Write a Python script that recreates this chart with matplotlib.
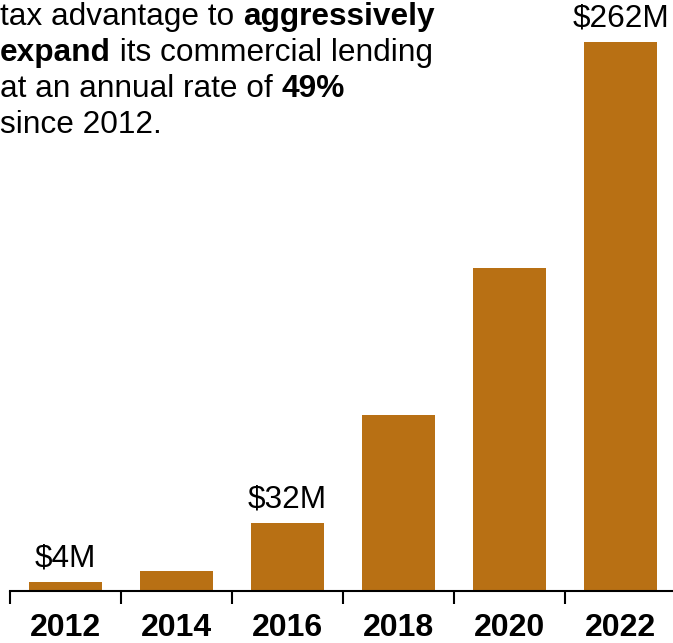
import matplotlib
matplotlib.use("Agg")
import matplotlib.pyplot as plt

years = ["2012", "2014", "2016", "2018", "2020", "2022"]
values = [4.5, 9.7, 32.5, 84, 154, 262]
label_text = ["$4M", "", "$32M", "", "", "$262M"]

bar_color = "#B87014"
font = "Liberation Sans"

W, H = 673, 643
fig = plt.figure(figsize=(W / 100, H / 100), dpi=100)
ax_left = 10 / W
ax_bottom = (H - 591) / H
ax = fig.add_axes([ax_left, ax_bottom, 666 / W, 1 - ax_bottom])

x = list(range(len(years)))
ax.bar(x, values, width=0.65, color=bar_color, zorder=2)
ax.set_xlim(-0.5, 5.5)
ax.set_ylim(0, 262 * (591 / 549))

for xi, v, t in zip(x, values, label_text):
    if t:
        ax.annotate(t, (xi, v), xytext=(0, 6), textcoords="offset points",
                    ha="center", va="bottom", fontsize=22.7, family=font,
                    color="black")

for s in ["top", "right", "left"]:
    ax.spines[s].set_visible(False)
ax.spines["bottom"].set_linewidth(1.5)
ax.set_yticks([])
ax.set_xticks(x)
ax.set_xticklabels(years, fontsize=23, fontweight="bold", family=font)
ax.tick_params(axis="x", which="major", length=0, pad=15.5)
ax.set_xticks([i - 0.5 for i in range(len(years) + 1)], minor=True)
ax.tick_params(axis="x", which="minor", length=9, width=1.5, direction="out")

# annotation text block with mixed weights
lines = [
    [("tax advantage to ", "normal"), ("aggressively", "bold")],
    [("expand", "bold"), (" its commercial lending", "normal")],
    [("at an annual rate of ", "normal"), ("49%", "bold")],
    [("since 2012.", "normal")],
]
fig.canvas.draw()
renderer = fig.canvas.get_renderer()
x0 = 0 / W
baseline0 = 25
spacing = 36
for i, segs in enumerate(lines):
    xpos = x0
    y = 1 - (baseline0 + i * spacing) / H
    for txt, wt in segs:
        t = fig.text(xpos, y, txt, fontsize=22.8, fontweight=wt, family=font,
                     ha="left", va="baseline", color="black")
        bb = t.get_window_extent(renderer)
        xpos = xpos + bb.width / W

fig.savefig("out.png", dpi=100)
